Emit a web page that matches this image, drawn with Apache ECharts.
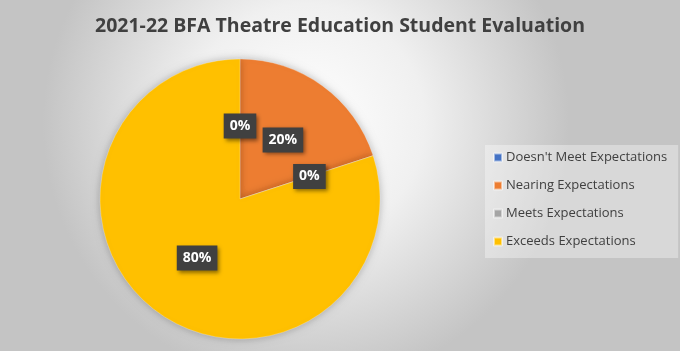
<!DOCTYPE html>
<html>
<head>
<meta charset="utf-8">
<script src="https://cdn.jsdelivr.net/npm/echarts@6/dist/echarts.min.js"></script>
<style>
html,body{margin:0;padding:0;background:#fff;}
#c{width:680px;height:351px;}
</style>
</head>
<body>
<div id="c"></div>
<script>
const titleText = "2021-22 BFA Theatre Education Student Evaluation";
const categories = ["Doesn't Meet Expectations", "Nearing Expectations", "Meets Expectations", "Exceeds Expectations"];
const values = [0, 20, 0, 80];
const colors = ["#4472C4", "#ED7D31", "#A5A5A5", "#FFC000"];

const chart = echarts.init(document.getElementById('c'), null, {renderer: 'canvas'});
chart.setOption({
  animation: false,
  color: colors,
  graphic: [{
    type: 'rect', z: -100, silent: true,
    shape: {x: 0, y: 0, width: 680, height: 351},
    style: {
      fill: {
        type: 'radial', x: 0.45, y: 0.35, r: 0.75,
        colorStops: [{offset: 0, color: '#ffffff'}, {offset: 0.45, color: '#f0f0f0'}, {offset: 1, color: '#c4c4c4'}]
      }
    }
  }],
  title: {
    text: titleText, left: 'center', top: 11,
    textStyle: {fontFamily: 'Open Sans', fontWeight: 'bold', fontSize: 19.5, color: '#404040'}
  },
  legend: {
    orient: 'vertical', left: 485, top: 145,
    padding: [6, 11, 10, 8],
    backgroundColor: 'rgba(255,255,255,0.35)',
    itemWidth: 8, itemHeight: 8, itemGap: 15,
    icon: 'rect',
    textStyle: {fontFamily: 'Open Sans', fontSize: 13, color: '#404040', padding: [0,0,0,-1]},
    data: categories
  },
  series: [{
    type: 'pie',
    center: [240, 199], radius: 140,
    startAngle: 90, clockwise: true,
    avoidLabelOverlap: false,
    emphasis: {disabled: true},
    itemStyle: {borderColor: 'rgba(255,255,255,0.5)', borderWidth: 0.5, shadowBlur: 8, shadowColor: 'rgba(0,0,0,0.25)'},
    label: {
      show: true, position: 'inside',
      formatter: p => Math.round(p.percent) + '%',
      fontFamily: 'Open Sans', fontWeight: 'bold', fontSize: 14, color: '#ffffff',
      backgroundColor: '#404040', padding: [6, 6, 5, 6],
      shadowBlur: 4, shadowColor: 'rgba(0,0,0,0.45)', shadowOffsetX: 2, shadowOffsetY: 2
    },
    labelLine: {show: false},
    data: categories.map((n, i) => ({name: n, value: values[i]}))
  }]
});
</script>
</body>
</html>
